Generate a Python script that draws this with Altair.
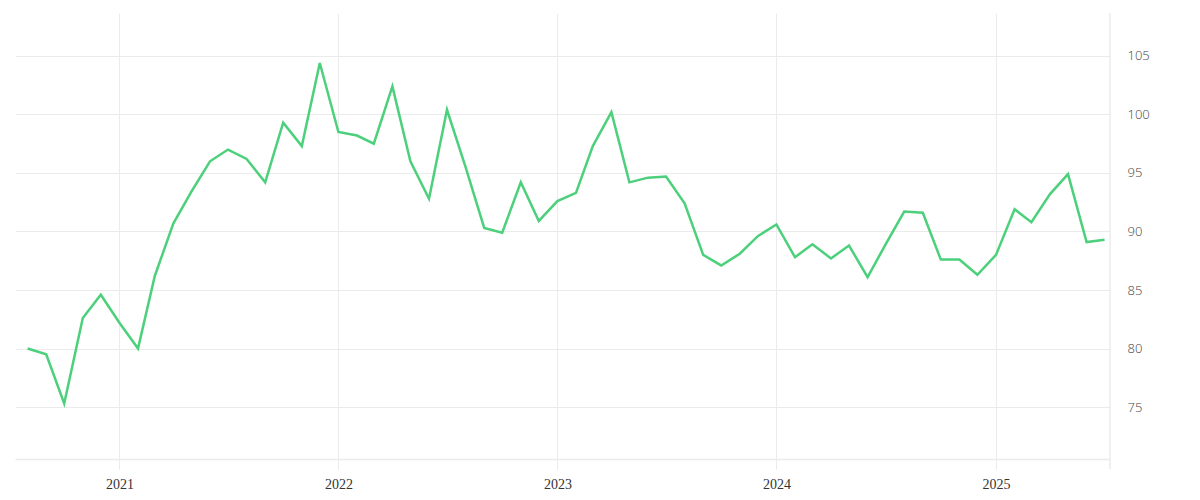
import altair as alt
import pandas as pd

months = pd.date_range("2020-08-01", "2025-07-01", freq="MS").strftime("%Y-%m-%d").tolist()
values = [
    80.0, 79.5, 75.3, 82.6, 84.6,
    82.2, 80.0, 86.2, 90.7, 93.4, 96.0, 97.0, 96.2, 94.2, 99.3, 97.3, 104.4,
    98.5, 98.2, 97.5, 102.4, 96.0, 92.8, 100.4, 95.5, 90.3, 89.9, 94.2, 90.9,
    92.6, 93.3, 97.3, 100.2, 94.2, 94.6, 94.7, 92.4, 88.0, 87.1, 88.1, 89.6,
    90.6, 87.8, 88.9, 87.7, 88.8, 86.1, 88.9, 91.7, 91.6, 87.6, 87.6, 86.3,
    88.0, 91.9, 90.8, 93.2, 94.9, 89.1, 89.3,
]
y_ticks = [75, 80, 85, 90, 95, 100, 105]
year_ticks = ["2021-01-01", "2022-01-01", "2023-01-01", "2024-01-01", "2025-01-01"]

df = pd.DataFrame({"date": months, "value": values})

GRID = "#ebebeb"
W, H = 1095, 446

x_enc = alt.X(
    "date:T",
    scale=alt.Scale(domain=["2020-07-11", "2025-07-10"]),
    axis=alt.Axis(
        values=[pd.Timestamp(d).isoformat() for d in year_ticks],
        format="%Y",
        title=None,
        grid=True,
        gridColor=GRID,
        gridWidth=1,
        domain=True,
        domainColor=GRID,
        domainWidth=1.5,
        ticks=True,
        tickColor=GRID,
        tickSize=10,
        labelFont="Liberation Serif",
        labelFontSize=14,
        labelColor="#333333",
        labelPadding=8,
    ),
)
y_enc = alt.Y(
    "value:Q",
    scale=alt.Scale(domain=[70.56, 108.67], nice=False, zero=False),
    axis=alt.Axis(
        orient="right",
        values=y_ticks,
        title=None,
        grid=True,
        gridColor=GRID,
        gridWidth=1,
        domain=False,
        ticks=False,
        labelFont="Open Sans",
        labelFontSize=13,
        labelFontWeight=300,
        labelColor="#444444",
        labelPadding=17,
    ),
)

line = alt.Chart(df).mark_line(color="#4cd07b", strokeWidth=2.5).encode(x=x_enc, y=y_enc)

edge = alt.Chart(pd.DataFrame({"k": [0]})).mark_rule(color=GRID, strokeWidth=1.5).encode(
    x=alt.value(W), y=alt.value(0), y2=alt.value(H + 10)
)

chart = (
    alt.layer(line, edge)
    .properties(
        width=W, height=H,
        padding={"left": 7, "top": 4, "right": 5, "bottom": 5},
        view=alt.ViewBackground(stroke="transparent", strokeWidth=0),
    )
    .configure_view(strokeWidth=0, stroke="transparent")
    .configure(background="white")
)

chart.save("out.html", embed_options={"renderer": "svg", "actions": False})
